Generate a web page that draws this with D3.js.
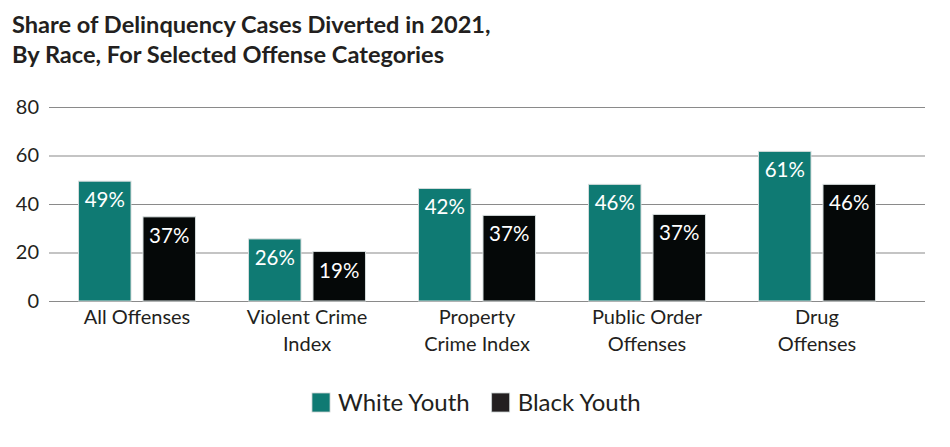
<!DOCTYPE html>
<html>
<head>
<meta charset="utf-8">
<script src="https://cdn.jsdelivr.net/npm/d3@7"></script>
<style>
  body { margin: 0; background: #fff; }
  svg { display: block; }
  text { font-family: Lato, "Noto Sans", sans-serif; fill: #231f20; }
</style>
</head>
<body>
<svg id="chart" width="950" height="447"></svg>
<script>
// Data
const categories = [
  ["All Offenses"],
  ["Violent Crime", "Index"],
  ["Property", "Crime Index"],
  ["Public Order", "Offenses"],
  ["Drug", "Offenses"]
];
const seriesNames = ["White Youth", "Black Youth"];
const whiteValues = [49.4, 25.6, 46.4, 48.1, 61.7];
const blackValues = [34.7, 20.4, 35.3, 35.7, 48.1];
const whiteLabels = ["49%", "26%", "42%", "46%", "61%"];
const blackLabels = ["37%", "19%", "37%", "37%", "46%"];
const yTicks = [0, 20, 40, 60, 80];

const colors = { "White Youth": "#0f7a73", "Black Youth": "#050808" };
const legendColors = { "White Youth": "#0f7a73", "Black Youth": "#231f20" };

const svg = d3.select("#chart");

// Title
const title = svg.append("text")
  .attr("x", 12)
  .attr("y", 33)
  .style("font-weight", 700)
  .style("font-size", "23.6px");
title.append("tspan").attr("x", 12).text("Share of Delinquency Cases Diverted in 2021,");
title.append("tspan").attr("x", 12).attr("dy", 30).text("By Race, For Selected Offense Categories");

const margin = { left: 49, right: 25, top: 107, bottom: 146 };
const width = 950 - margin.left - margin.right;
const height = 447 - margin.top - margin.bottom;

const g = svg.append("g").attr("transform", `translate(${margin.left},${margin.top})`);

const x0 = d3.scaleBand()
  .domain(d3.range(categories.length))
  .range([3, 853])
  .paddingInner(0.312)
  .paddingOuter(0.156);

const x1 = d3.scaleBand()
  .domain(seriesNames)
  .range([0, x0.bandwidth()])
  .paddingInner(0.186);

const y = d3.scaleLinear().domain([0, 80]).range([height, 0]);

// Grid + y axis
const yAxis = d3.axisLeft(y).tickValues(yTicks).tickSize(-width).tickPadding(10);
const ya = g.append("g").call(yAxis);
ya.select(".domain").remove();
ya.selectAll(".tick line").attr("stroke", "#8a8a8a").attr("stroke-width", 1.2);
ya.selectAll(".tick text")
  .style("font-size", "20px")
  .attr("fill", "#231f20")
  .attr("x", -10);

// Bars
const rows = categories.map((c, i) => ({
  i,
  values: [
    { key: "White Youth", v: whiteValues[i], label: whiteLabels[i] },
    { key: "Black Youth", v: blackValues[i], label: blackLabels[i] }
  ]
}));

const groups = g.selectAll(".grp")
  .data(rows)
  .enter().append("g")
  .attr("class", "grp")
  .attr("transform", d => `translate(${x0(d.i)},0)`);

groups.selectAll("rect")
  .data(d => d.values)
  .enter().append("rect")
  .attr("x", d => x1(d.key))
  .attr("y", d => y(d.v))
  .attr("width", x1.bandwidth())
  .attr("height", d => height - y(d.v))
  .attr("fill", d => colors[d.key])
  .attr("stroke", "#d5dcdc")
  .attr("stroke-width", 1);

groups.selectAll(".val")
  .data(d => d.values)
  .enter().append("text")
  .attr("class", "val")
  .attr("x", d => x1(d.key) + x1.bandwidth() / 2)
  .attr("y", d => y(d.v) + 26)
  .attr("text-anchor", "middle")
  .style("font-size", "20.5px")
  .style("fill", "#fff")
  .text(d => d.label);

// Category labels
const cat = g.append("g").attr("transform", `translate(0,${height})`);
cat.selectAll("text")
  .data(categories)
  .enter().append("text")
  .attr("text-anchor", "middle")
  .attr("y", 23)
  .style("font-size", "20px")
  .each(function (lines, i) {
    const t = d3.select(this);
    lines.forEach((ln, j) => {
      t.append("tspan")
        .attr("x", x0(i) + x0.bandwidth() / 2)
        .attr("dy", j === 0 ? 0 : 27)
        .text(ln);
    });
  });

// Legend
const legend = svg.append("g").attr("transform", "translate(312,393)");
let lx = 0;
seriesNames.forEach(name => {
  const item = legend.append("g").attr("transform", `translate(${lx},0)`);
  item.append("rect")
    .attr("width", 18).attr("height", 19)
    .attr("fill", legendColors[name])
    .attr("stroke", "#c8d0d0").attr("stroke-width", 0.8);
  const t = item.append("text")
    .attr("x", 26).attr("y", 18)
    .style("font-size", "24px")
    .text(name);
  lx += 26 + t.node().getComputedTextLength() + 22;
});
</script>
</body>
</html>
